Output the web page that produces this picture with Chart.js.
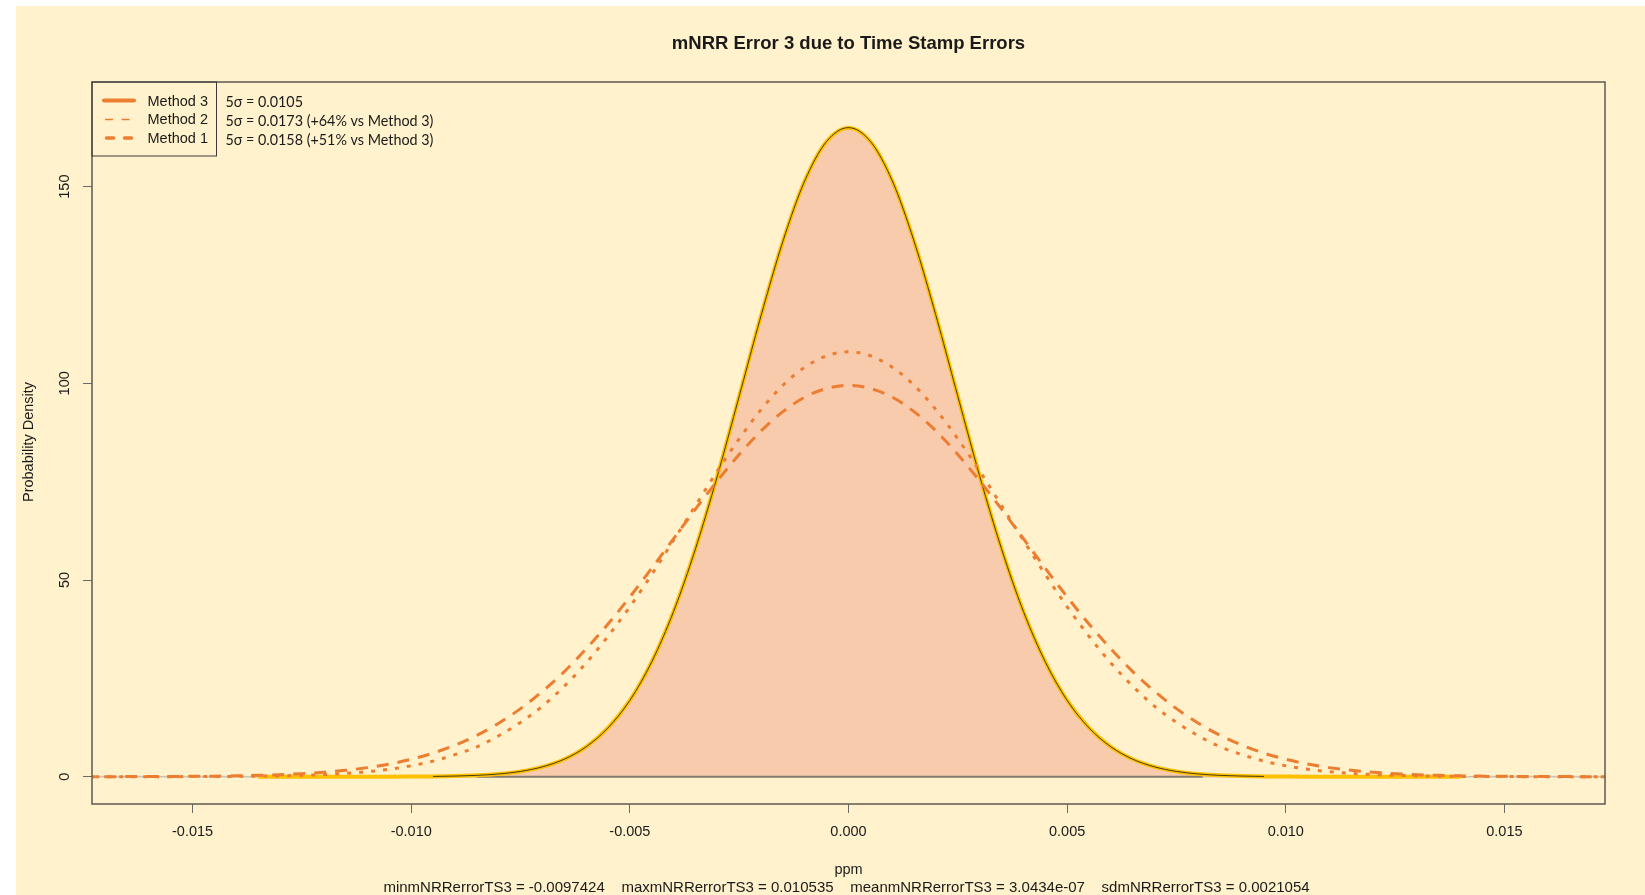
<!DOCTYPE html>
<html><head><meta charset="utf-8">
<script src="https://cdn.jsdelivr.net/npm/chart.js@4.4.1/dist/chart.umd.min.js"></script>
<style>html,body{margin:0;padding:0;background:#fff;overflow:hidden}#wrap{position:relative;width:1645px;height:895px}</style>
</head><body><div id="wrap"><canvas id="c" width="1645" height="895"></canvas></div>
<script>
const titleText = 'mNRR Error 3 due to Time Stamp Errors';
const xTitle = 'ppm';
const yTitle = 'Probability Density';
const statsText = 'minmNRRerrorTS3 = -0.0097424    maxmNRRerrorTS3 = 0.010535    meanmNRRerrorTS3 = 3.0434e-07    sdmNRRerrorTS3 = 0.0021054';
const seriesNames = ['Method 3', 'Method 2', 'Method 1'];
const seriesNotes = ['5σ = 0.0105', '5σ = 0.0173 (+64% vs Method 3)', '5σ = 0.0158 (+51% vs Method 3)'];
const xTicks = [-0.015, -0.010, -0.005, 0, 0.005, 0.010, 0.015];
const yTicks = [0, 50, 100, 150];
const xRange = [-0.0173, 0.0173];
const yRange = [-6.94, 176.6];

const ppm = [-0.0175,-0.017,-0.0165,-0.016,-0.0155,-0.015,-0.0145,-0.014,-0.0135,-0.013,-0.0125,-0.012,-0.0115,-0.011,-0.0105,-0.01,-0.0095,-0.009,-0.0085,-0.008,-0.0075,-0.007,-0.0065,-0.006,-0.0055,-0.005,-0.0045,-0.004,-0.0035,-0.003,-0.0025,-0.002,-0.0015,-0.001,-0.0005,0,0.0005,0.001,0.0015,0.002,0.0025,0.003,0.0035,0.004,0.0045,0.005,0.0055,0.006,0.0065,0.007,0.0075,0.008,0.0085,0.009,0.0095,0.01,0.0105,0.011,0.0115,0.012,0.0125,0.013,0.0135,0.014,0.0145,0.015,0.0155,0.016,0.0165,0.017,0.0175];
const method2 = [0.01,0.01,0.02,0.03,0.06,0.09,0.14,0.22,0.34,0.52,0.77,1.13,1.63,2.31,3.22,4.43,6.0,8.0,10.5,13.6,17.3,21.7,26.7,32.5,38.8,45.7,53.0,60.5,68.0,75.2,81.9,87.9,92.8,96.5,98.7,99.5,98.7,96.5,92.8,87.9,81.9,75.2,68.0,60.5,53.0,45.7,38.8,32.5,26.7,21.7,17.3,13.6,10.5,8.0,6.0,4.43,3.22,2.31,1.63,1.13,0.77,0.52,0.34,0.22,0.14,0.09,0.06,0.03,0.02,0.01,0.01];
const method1 = [0,0,0,0.01,0.01,0.03,0.05,0.08,0.14,0.22,0.35,0.55,0.85,1.28,1.90,2.77,3.96,5.6,7.6,10.4,13.8,17.9,23.0,28.9,35.7,43.2,51.4,60.1,68.9,77.7,85.9,93.3,99.5,104.1,107.0,108.0,107.0,104.1,99.5,93.3,85.9,77.7,68.9,60.1,51.4,43.2,35.7,28.9,23.0,17.9,13.8,10.4,7.6,5.6,3.96,2.77,1.90,1.28,0.85,0.55,0.35,0.22,0.14,0.08,0.05,0.03,0.01,0.01,0,0,0];

const ppm3 = [-0.0135,-0.013,-0.0125,-0.012,-0.0115,-0.011,-0.0105,-0.01,-0.0095,-0.009,-0.0085,-0.008,-0.0075,-0.007,-0.0065,-0.006,-0.0055,-0.005,-0.0045,-0.004,-0.0035,-0.003,-0.0025,-0.002,-0.0015,-0.001,-0.0005,0,0.0005,0.001,0.0015,0.002,0.0025,0.003,0.0035,0.004,0.0045,0.005,0.0055,0.006,0.0065,0.007,0.0075,0.008,0.0085,0.009,0.0095,0.01,0.0105,0.011,0.0115,0.012,0.0125,0.013,0.0135,0.014];
const method3 = [0,0,0,0,0,0,0.01,0.03,0.07,0.16,0.34,0.69,1.34,2.50,4.45,7.6,12.4,19.4,29.2,42.0,57.9,76.4,96.7,117.2,136.1,151.5,161.5,165.0,161.5,151.5,136.1,117.2,96.7,76.4,57.9,42.0,29.2,19.4,12.4,7.6,4.45,2.50,1.34,0.69,0.34,0.16,0.07,0.03,0.01,0,0,0,0,0,0,0];

const ORANGE = '#ED7D31', GOLD = '#FFC000', PEACH = '#F8CBAD', BEIGE = '#FFF2CC';
const TXT = '#1a1a1a';
const FONT = '"Liberation Sans", Arial, sans-serif';

const pts = (xs, ys) => xs.map((x, i) => ({ x: x, y: ys[i] }));
const m3all = pts(ppm3, method3);
const m3inner = m3all.filter(p => Math.abs(p.x) <= 0.00951);

const deco = {
  id: 'deco',
  beforeDraw(chart) {
    const ctx = chart.ctx;
    ctx.save();
    ctx.fillStyle = '#ffffff';
    ctx.fillRect(0, 0, chart.width, chart.height);
    ctx.fillStyle = BEIGE;
    ctx.fillRect(16, 6, chart.width - 16, chart.height - 6);
    ctx.restore();
  },
  afterDraw(chart) {
    const ctx = chart.ctx, a = chart.chartArea, ys = chart.scales.y;
    ctx.save();
    // plot box
    ctx.strokeStyle = '#5f5a52';
    ctx.lineWidth = 1.5;
    ctx.strokeRect(a.left, a.top, a.right - a.left, a.bottom - a.top);
    // title
    ctx.fillStyle = TXT;
    ctx.textAlign = 'center';
    ctx.textBaseline = 'middle';
    ctx.font = 'bold 18.5px ' + FONT;
    ctx.fillText(titleText, (a.left + a.right) / 2, 44);
    // x title & stats
    ctx.font = '14.5px ' + FONT;
    ctx.fillText(xTitle, (a.left + a.right) / 2, 870);
    ctx.font = '15px ' + FONT;
    ctx.fillText(statsText, 846.5, 887.5);
    ctx.font = '14.5px ' + FONT;
    // y tick labels (rotated, R style)
    yTicks.forEach(v => {
      const py = ys.getPixelForValue(v);
      ctx.save();
      ctx.translate(65, py);
      ctx.rotate(-Math.PI / 2);
      ctx.fillText(String(v), 0, 0);
      ctx.restore();
    });
    // y title
    ctx.save();
    ctx.translate(29, 442);
    ctx.rotate(-Math.PI / 2);
    ctx.fillText(yTitle, 0, 0);
    ctx.restore();
    // legend box
    ctx.strokeStyle = '#3a3a3a';
    ctx.lineWidth = 1;
    ctx.strokeRect(a.left, a.top, 216.5 - a.left, 156 - a.top);
    const rowsL = [101.5, 120, 138.5];
    const rowsN = [102, 121.5, 140];
    ctx.strokeStyle = ORANGE;
    ctx.lineCap = 'round';
    ctx.lineWidth = 4; ctx.setLineDash([]);
    ctx.beginPath(); ctx.moveTo(104, 100.5); ctx.lineTo(134, 100.5); ctx.stroke();
    ctx.lineCap = 'butt';
    ctx.lineWidth = 1.3; ctx.setLineDash([8, 8.5]);
    ctx.beginPath(); ctx.moveTo(105, 119.5); ctx.lineTo(131, 119.5); ctx.stroke();
    ctx.lineCap = 'round';
    ctx.lineWidth = 3.5; ctx.setLineDash([7, 11]);
    ctx.beginPath(); ctx.moveTo(106.5, 138); ctx.lineTo(133, 138); ctx.stroke();
    ctx.setLineDash([]);
    ctx.fillStyle = TXT;
    ctx.textAlign = 'left';
    ctx.font = '14.5px ' + FONT;
    seriesNames.forEach((s, i) => ctx.fillText(s, 147.5, rowsL[i]));
    let fs = 14;
    ctx.font = fs + 'px Lato, "Liberation Sans", sans-serif';
    const w = ctx.measureText(seriesNotes[1]).width;
    fs = fs * 208 / w;
    ctx.font = fs.toFixed(2) + 'px Lato, "Liberation Sans", sans-serif';
    seriesNotes.forEach((s, i) => ctx.fillText(s, 225.5, rowsN[i]));
    ctx.restore();
  }
};

const lineDefaults = { pointRadius: 0, fill: false, cubicInterpolationMode: 'monotone' };

new Chart(document.getElementById('c'), {
  type: 'line',
  data: {
    datasets: [
      Object.assign({}, lineDefaults, { label: 'baseline', data: [{ x: xRange[0], y: 0 }, { x: xRange[1], y: 0 }], borderColor: '#cbc3b3', borderWidth: 1.5, order: 10 }),
      Object.assign({}, lineDefaults, { label: 'area', data: m3inner, fill: 'origin', backgroundColor: PEACH, borderWidth: 0, borderColor: 'rgba(0,0,0,0)', order: 9 }),
      Object.assign({}, lineDefaults, { label: 'areaBase', data: [{ x: -0.0085, y: 0 }, { x: 0.0081, y: 0 }], borderColor: '#857c70', borderWidth: 2, order: 8 }),
      Object.assign({}, lineDefaults, { label: 'Method 3 outline', data: m3all, borderColor: GOLD, borderWidth: 4, order: 5 }),
      Object.assign({}, lineDefaults, { label: 'Method 3', data: m3inner, borderColor: '#1a1a1a', borderWidth: 0.8, order: 4 }),
      Object.assign({}, lineDefaults, { label: 'Method 1', data: pts(ppm, method1), borderColor: ORANGE, borderWidth: 3, borderDash: [4, 8], order: 1 }),
      Object.assign({}, lineDefaults, { label: 'Method 2', data: pts(ppm, method2), borderColor: ORANGE, borderWidth: 3, borderDash: [12, 9], order: 0 })
    ]
  },
  options: {
    responsive: false,
    animation: false,
    devicePixelRatio: 1,
    layout: { padding: { left: 0, top: 82, right: 40, bottom: 0 } },
    plugins: { legend: { display: false }, title: { display: false }, tooltip: { enabled: false } },
    scales: {
      x: {
        type: 'linear', min: xRange[0], max: xRange[1],
        afterBuildTicks(s) { s.ticks = xTicks.map(v => ({ value: v })); },
        afterFit(s) { s.height = 91; },
        ticks: { callback: v => Number(v).toFixed(3), font: { family: FONT, size: 14.5 }, color: TXT, padding: 10, maxRotation: 0, minRotation: 0, autoSkip: false },
        grid: { drawOnChartArea: false, drawTicks: true, tickLength: 9, color: '#6a6a6a', lineWidth: 1 },
        border: { display: false }
      },
      y: {
        type: 'linear', min: yRange[0], max: yRange[1],
        afterBuildTicks(s) { s.ticks = yTicks.map(v => ({ value: v })); },
        afterFit(s) { s.width = 92; },
        ticks: { color: 'rgba(0,0,0,0)', font: { family: FONT, size: 14.5 }, autoSkip: false },
        grid: { drawOnChartArea: false, drawTicks: true, tickLength: 9, color: '#6a6a6a', lineWidth: 1 },
        border: { display: false }
      }
    }
  },
  plugins: [deco]
});
</script>
</body></html>
